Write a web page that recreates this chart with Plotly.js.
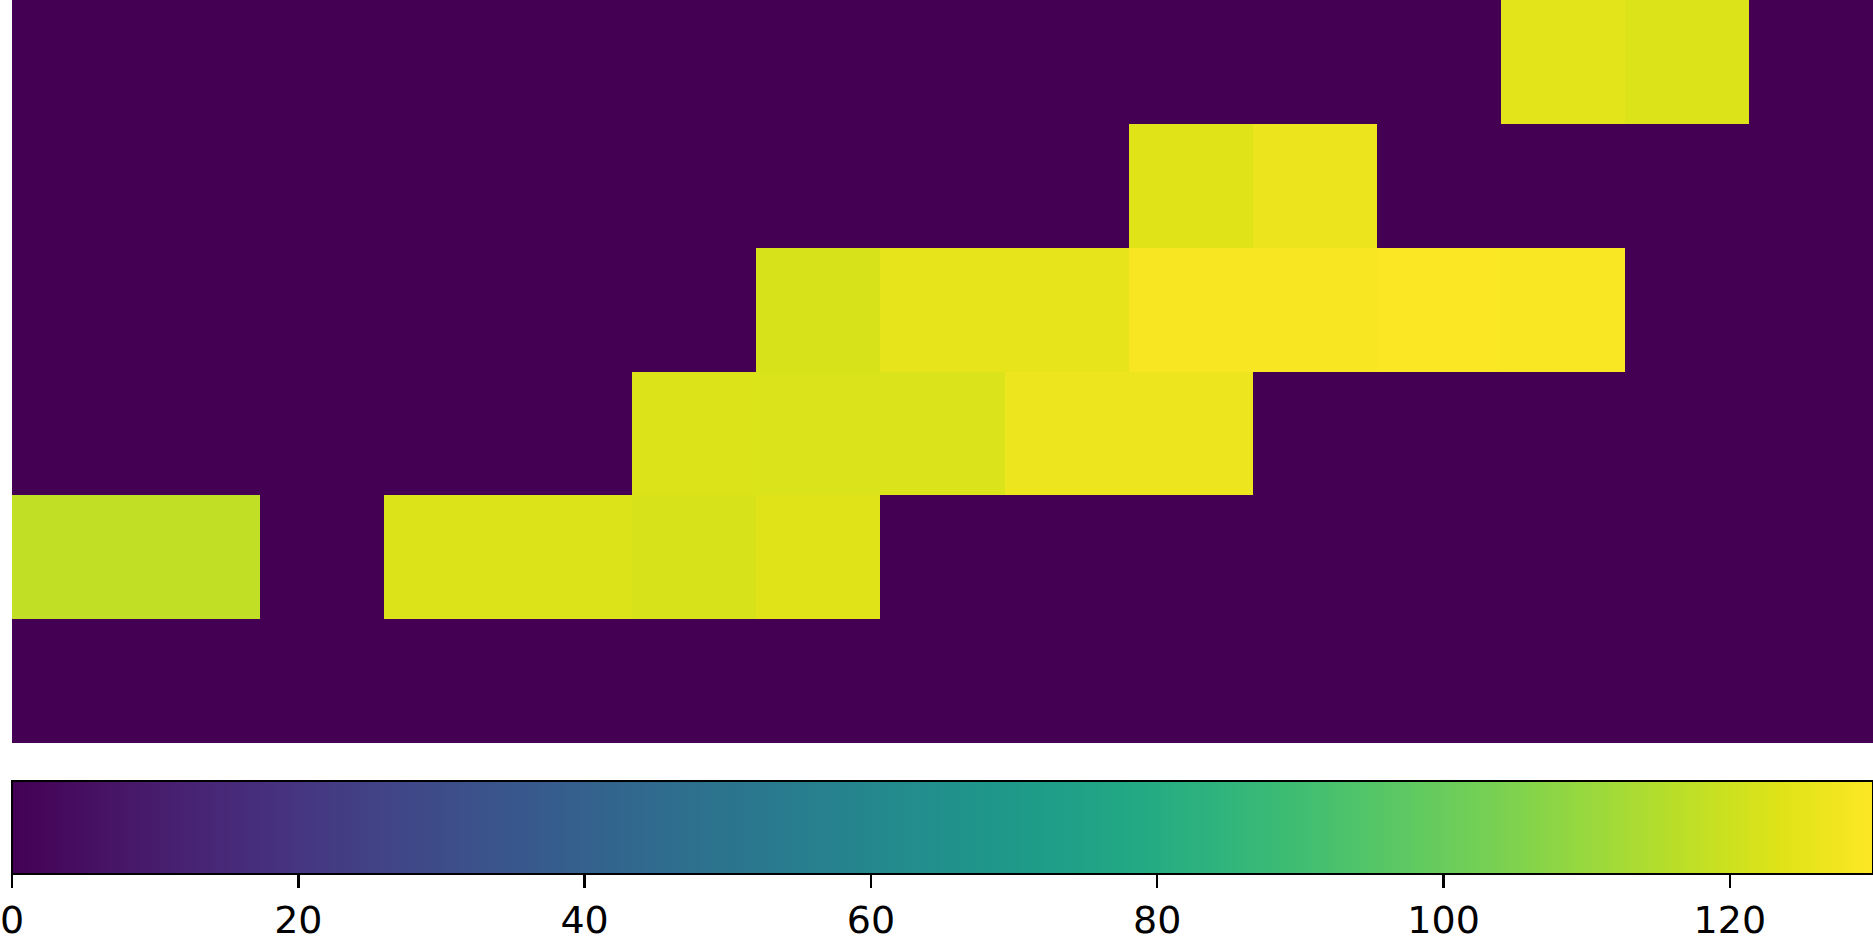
<!DOCTYPE html>
<html>
<head>
<meta charset="utf-8">
<script src="https://cdn.plot.ly/plotly-3.0.1.min.js"></script>
<style>html,body{margin:0;padding:0;background:#fff;}#chart{width:1873px;height:945px;}</style>
</head>
<body>
<div id="chart"></div>
<script>
// Column indices and row indices (row 0 at top)
const columns = [0,1,2,3,4,5,6,7,8,9,10,11,12,13,14];
const rows = [0,1,2,3,4,5];
// Cell values per row (top to bottom)
const row0 = [0,0,0,0,0,0,0,0,0,0,0,0,124.4,123.0,0];
const row1 = [0,0,0,0,0,0,0,0,0,123.5,126.3,0,0,0,0];
const row2 = [0,0,0,0,0,0,122.0,125.2,125.2,129.0,129.0,129.5,129.2,0,0];
const row3 = [0,0,0,0,0,123.0,122.8,122.8,126.5,126.5,0,0,0,0,0];
const row4 = [117.6,117.6,0,123.0,123.0,122.0,124.0,0,0,0,0,0,0,0,0];
const row5 = [0,0,0,0,0,0,0,0,0,0,0,0,0,0,0];
const zMin = 0, zMax = 130;
const tickValues = [0,20,40,60,80,100,120];
const tickLabels = ['0','20','40','60','80','100','120'];

const viridis = [
  [0.0,'#440154'],[0.05,'#471365'],[0.1,'#482475'],[0.15,'#463480'],[0.2,'#414487'],
  [0.25,'#3b528b'],[0.3,'#355f8d'],[0.35,'#2f6c8e'],[0.4,'#2a788e'],[0.45,'#25848e'],
  [0.5,'#21918c'],[0.55,'#1e9c89'],[0.6,'#22a884'],[0.65,'#2fb47c'],[0.7,'#44bf70'],
  [0.75,'#5ec962'],[0.8,'#7ad151'],[0.85,'#9bd93c'],[0.9,'#bddf26'],[0.95,'#dfe318'],
  [1.0,'#fde725']
];

const W = 1873, H = 945;
const ml = 12, mr = 0, mt = 0, mb = 202;
const plotH = H - mt - mb;

const trace = {
  type: 'heatmap',
  x: columns,
  y: rows,
  z: [row0,row1,row2,row3,row4,row5],
  zmin: zMin, zmax: zMax,
  colorscale: viridis,
  hoverinfo: 'skip',
  colorbar: {
    orientation: 'h',
    x: 0, xanchor: 'left', xref: 'paper',
    y: -(781 - plotH) / plotH, yanchor: 'top', yref: 'paper',
    lenmode: 'pixels', len: W - ml - mr,
    thicknessmode: 'pixels', thickness: 93,
    xpad: 0, ypad: 0,
    outlinewidth: 2, outlinecolor: '#000',
    ticks: 'outside', ticklen: 13, tickwidth: 2.5, tickcolor: '#000',
    ticklabeloverflow: 'allow',
    tickmode: 'array', tickvals: tickValues, ticktext: tickLabels,
    tickfont: {family: 'DejaVu Sans', size: 38, color: '#000'}
  }
};

const layout = {
  width: W, height: H,
  margin: {l: ml, r: mr, t: mt, b: mb, pad: 0},
  paper_bgcolor: '#fff', plot_bgcolor: '#fff',
  xaxis: {visible: false, range: [-0.5, 14.5], fixedrange: true},
  yaxis: {visible: false, range: [5.5, -0.5], fixedrange: true},
  showlegend: false
};

Plotly.newPlot('chart', [trace], layout, {displayModeBar: false, staticPlot: true});
</script>
</body>
</html>
